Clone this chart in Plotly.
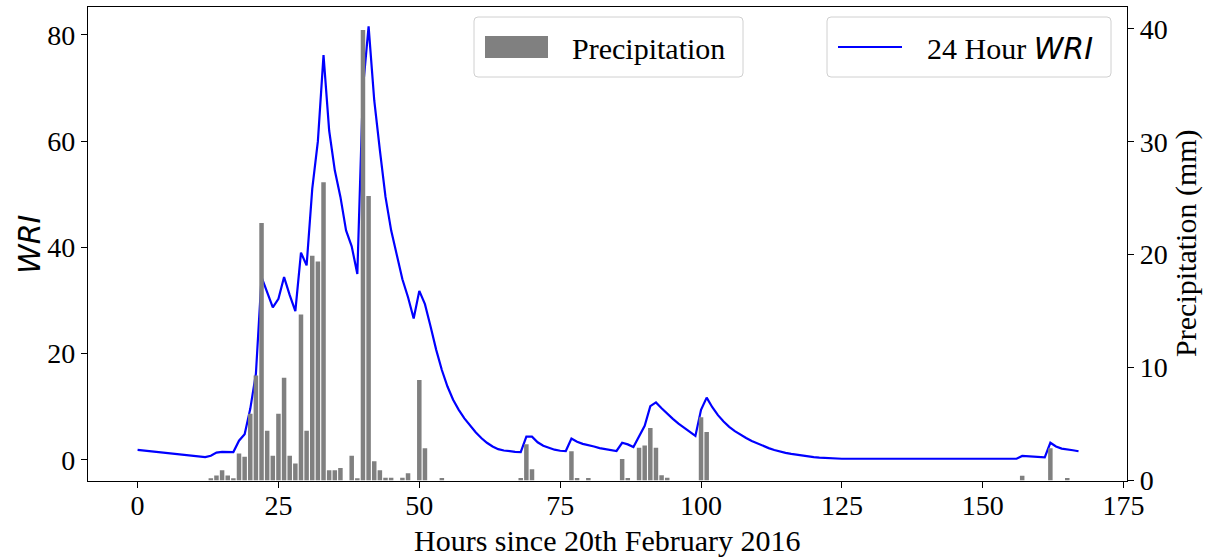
import plotly.graph_objects as go

# ---------------- data ----------------
hours = list(range(0, 168))
wri = [
    1.85, 1.73, 1.62, 1.51, 1.40, 1.30, 1.20, 1.10, 1.00, 0.90,   # 0-9
    0.78, 0.65, 0.50, 0.75, 1.35, 1.50, 1.50, 1.45, 3.6, 4.8,     # 10-19
    9.6, 16.2, 34.4, 31.5, 28.7, 30.3, 34.4, 31.0, 28.0, 39.0,    # 20-29
    36.6, 51.0, 60.0, 76.2, 62.0, 54.5, 49.5, 43.2, 40.2, 35.0,   # 30-39
    70.0, 81.6, 67.7, 58.3, 49.5, 43.2, 38.4, 34.0, 30.6, 26.6,   # 40-49
    31.8, 29.3, 25.1, 20.7, 16.9, 13.8, 11.3, 9.4, 7.8, 6.4,      # 50-59
    5.2, 4.1, 3.2, 2.5, 2.0, 1.75, 1.6, 1.5, 1.45, 4.35,          # 60-69
    4.35, 3.3, 2.65, 2.2, 1.9, 1.7, 1.65, 4.0, 3.4, 3.0,          # 70-79
    2.8, 2.5, 2.2, 2.0, 1.85, 1.66, 3.2, 2.9, 2.4, 4.3,           # 80-89
    6.4, 10.1, 10.8, 9.7, 8.6, 7.7, 6.8, 6.0, 5.3, 4.5,           # 90-99
    9.4, 11.7, 9.9, 8.4, 7.2, 6.2, 5.4, 4.7, 4.1, 3.55,           # 100-109
    3.05, 2.6, 2.2, 1.85, 1.55, 1.3, 1.1, 0.92, 0.77, 0.63,       # 110-119
    0.5, 0.4, 0.32, 0.25, 0.2, 0.2, 0.2, 0.2, 0.2, 0.2,           # 120-129
    0.2, 0.2, 0.2, 0.2, 0.2, 0.2, 0.2, 0.2, 0.2, 0.2,             # 130-139
    0.2, 0.2, 0.2, 0.2, 0.2, 0.2, 0.2, 0.2, 0.2, 0.2,             # 140-149
    0.2, 0.2, 0.2, 0.2, 0.2, 0.2, 0.2, 0.72, 0.66, 0.6,           # 150-159
    0.55, 0.45, 3.2, 2.5, 2.1, 2.0, 1.8, 1.6,                     # 160-167
]

rain_hours = [13, 14, 15, 16, 17, 18, 19, 20, 21, 22, 23, 24, 25, 26, 27, 28,
              29, 30, 31, 32, 33, 34, 35, 36, 38, 39, 40, 41, 42, 43, 44, 45,
              47, 48, 50, 51, 54, 68, 69, 70, 77, 78, 80, 86, 87, 89, 90, 91,
              92, 93, 94, 100, 101, 157, 162, 165]
rain_mm = [0.2, 0.45, 0.9, 0.45, 0.2, 2.4, 2.1, 5.9, 9.3, 22.8, 4.4, 2.2, 5.9,
           9.1, 2.2, 1.5, 14.7, 4.4, 19.9, 19.4, 26.4, 0.9, 0.9, 1.1, 2.2, 0.2,
           39.9, 25.2, 1.7, 0.9, 0.25, 0.25, 0.25, 0.65, 8.9, 2.85, 0.22, 0.22,
           3.2, 1.0, 2.6, 0.22, 0.22, 1.9, 0.22, 2.9, 3.1, 4.65, 2.9, 0.46,
           0.25, 5.6, 4.3, 0.43, 2.85, 0.22]

x_ticks = [0, 25, 50, 75, 100, 125, 150, 175]
wri_ticks = [0, 20, 40, 60, 80]
rain_ticks = [0, 10, 20, 30, 40]

x_title = "Hours since 20th February 2016"
y_title = "WRI"
y2_title = "Precipitation (mm)"

# ---------------- figure ----------------
W, H = 1206, 558
SERIF = "Liberation Serif"
SANS = "DejaVu Sans"

fig = go.Figure()
fig.add_trace(go.Scatter(x=hours, y=wri, mode="lines", name="24 Hour WRI",
                         line=dict(color="#0000ff", width=2.2), yaxis="y",
                         showlegend=False))
fig.add_trace(go.Bar(x=rain_hours, y=rain_mm, width=0.8, name="Precipitation",
                     marker=dict(color="#808080", line=dict(width=0)),
                     yaxis="y2", showlegend=False))


def px(x):
    return x / W


def py(y):
    return 1 - y / H


x0, x1 = 88, 1127
y0, y1 = 7.3, 480.5

axis_common = dict(showline=True, linecolor="black", linewidth=1.2,
                   ticks="outside", ticklen=6, tickwidth=1.2, tickcolor="black",
                   showgrid=False, zeroline=False, automargin=False,
                   tickfont=dict(family=SERIF, size=28, color="black"))

fig.update_layout(
    width=W, height=H,
    margin=dict(l=0, r=0, t=0, b=0, autoexpand=False),
    paper_bgcolor="white", plot_bgcolor="white",
    barmode="overlay",
    xaxis=dict(domain=[px(x0), px(x1)], range=[-8.8, 175.6],
               tickvals=x_ticks, mirror=True, anchor="y",
               ticklabelstandoff=-6, **axis_common),
    yaxis=dict(domain=[py(y1), py(y0)], range=[-3.9, 85.2],
               tickvals=wri_ticks, anchor="x", **axis_common),
    yaxis2=dict(domain=[py(y1), py(y0)], range=[0, 41.9],
                tickvals=rain_ticks, overlaying="y", side="right", anchor="x",
                **axis_common),
)

# ---------------- axis titles ----------------
fig.add_annotation(xref="paper", yref="paper", x=px((x0 + x1) / 2), y=py(540),
                   xanchor="center", yanchor="middle", showarrow=False,
                   text=x_title, font=dict(family=SERIF, size=30, color="black"))
fig.add_annotation(xref="paper", yref="paper", x=px(30), y=py((y0 + y1) / 2),
                   xanchor="center", yanchor="middle", showarrow=False,
                   textangle=-90, text=f"<i>{y_title}</i>",
                   font=dict(family=SANS, size=30, color="black"))
fig.add_annotation(xref="paper", yref="paper", x=px(1186), y=py((y0 + y1) / 2),
                   xanchor="center", yanchor="middle", showarrow=False,
                   textangle=-90, text=y2_title,
                   font=dict(family=SERIF, size=30, color="black"))


# ---------------- legends (matplotlib-style boxes) ----------------
def rounded_rect(xa, ya, xb, yb, r=4):
    return (f"M {px(xa + r)} {py(ya)} L {px(xb - r)} {py(ya)} "
            f"Q {px(xb)} {py(ya)} {px(xb)} {py(ya + r)} "
            f"L {px(xb)} {py(yb - r)} Q {px(xb)} {py(yb)} {px(xb - r)} {py(yb)} "
            f"L {px(xa + r)} {py(yb)} Q {px(xa)} {py(yb)} {px(xa)} {py(yb - r)} "
            f"L {px(xa)} {py(ya + r)} Q {px(xa)} {py(ya)} {px(xa + r)} {py(ya)} Z")


shapes = [
    dict(type="path", xref="paper", yref="paper",
         path=rounded_rect(474, 17, 743, 77),
         line=dict(color="#d0d0d0", width=1), fillcolor="rgba(255,255,255,0.8)"),
    dict(type="rect", xref="paper", yref="paper",
         x0=px(485), x1=px(548), y0=py(58), y1=py(36),
         line=dict(width=0), fillcolor="#808080"),
    dict(type="path", xref="paper", yref="paper",
         path=rounded_rect(827, 17, 1111, 77),
         line=dict(color="#d0d0d0", width=1), fillcolor="rgba(255,255,255,0.8)"),
    dict(type="line", xref="paper", yref="paper",
         x0=px(838), x1=px(902), y0=py(47), y1=py(47),
         line=dict(color="#0000ff", width=2.2)),
]
fig.update_layout(shapes=shapes)

fig.add_annotation(xref="paper", yref="paper", x=px(570), y=py(48),
                   xanchor="left", yanchor="middle", showarrow=False,
                   text="Precipitation",
                   font=dict(family=SERIF, size=30, color="black"))
fig.add_annotation(xref="paper", yref="paper", x=px(925), y=py(48),
                   xanchor="left", yanchor="middle", showarrow=False,
                   text=f'24 Hour <span style="font-family:{SANS}"><i>WRI</i></span>',
                   font=dict(family=SERIF, size=30, color="black"))

fig.write_html("out.html")
